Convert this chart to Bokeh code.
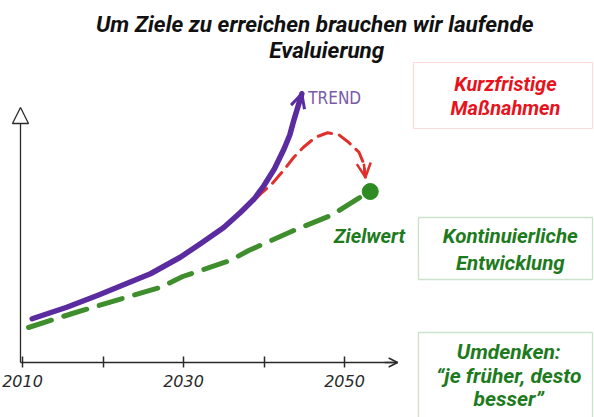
from bokeh.plotting import figure
from bokeh.models import (Range1d, LinearAxis, FixedTicker, Arrow, OpenHead,
                          NormalHead, Label, BoxAnnotation)
from bokeh.embed import file_html
from bokeh.resources import INLINE

# ---------------- data ----------------
tick_years = [2010, 2020, 2030, 2040, 2050]
tick_labels = {2010: "2010", 2020: "", 2030: "2030", 2040: "", 2050: "2050"}

trend_years = [2011.2, 2015.5, 2019.3, 2025.9, 2029.6, 2032.1, 2035.0, 2037.1, 2038.8, 2040.0, 2041.3, 2042.5, 2043.2, 2043.7, 2044.7]
trend_values = [17.5, 22.1, 26.8, 35.5, 42.1, 47.5, 54.0, 60.1, 65.5, 70.8, 77.5, 85.5, 91.0, 96.8, 107.5]

short_years = [2037.1, 2038.1, 2039.8, 2041.0, 2042.5, 2043.7, 2044.9, 2046.4, 2047.9, 2049.3, 2050.5, 2051.8, 2052.4, 2052.6]
short_values = [59.6, 62.8, 68.1, 71.5, 77.1, 82.1, 86.1, 90.1, 91.9, 91.1, 88.1, 84.1, 79.5, 74.1]

target_years = [2010.75, 2016.2, 2022.4, 2027.1, 2029.9, 2035.8, 2038.1, 2043.7, 2048.3, 2052.9]
target_values = [14.0, 19.6, 25.6, 30.0, 34.4, 40.8, 44.8, 52.8, 58.8, 68.0]

goal_year = [2053.2]
goal_value = [68.4]

title_lines = ["Um Ziele zu erreichen brauchen wir laufende", "Evaluierung"]
box1_lines = ["Kurzfristige", "Maßnahmen"]
box2_lines = ["Kontinuierliche", "Entwicklung"]
box3_lines = ["Umdenken:", "\u201cje fr\u00fcher, desto", "besser\u201d"]

# ---------------- styles ----------------
PURPLE = "#5b2c9f"
RED_LINE = "#e0302b"
RED_TEXT = "#e8121c"
GREEN_LINE = "#3f8e2e"
GREEN_TEXT = "#1d7a1d"
INK = "#2a2a2a"
FONT = "Roboto"

p = figure(width=594, height=417, output_backend="svg", toolbar_location=None,
           x_range=Range1d(2007.267, 2081.056), y_range=Range1d(-22, 144.8),
           x_axis_type=None, y_axis_type=None,
           min_border=0, min_border_left=0, min_border_right=0,
           min_border_top=0, min_border_bottom=0)
p.outline_line_color = None
p.background_fill_color = "white"
p.border_fill_color = "white"

# x axis pinned at value 0 inside the frame
xaxis = LinearAxis(fixed_location=0, bounds=(2009.75, 2056.6),
                   ticker=FixedTicker(ticks=tick_years),
                   major_label_overrides=tick_labels)
xaxis.axis_line_color = INK
xaxis.axis_line_width = 1.3
xaxis.major_tick_line_color = INK
xaxis.major_tick_line_width = 1.5
xaxis.major_tick_in = 6
xaxis.major_tick_out = 5
xaxis.minor_tick_line_color = None
xaxis.major_label_standoff = 7
xaxis.major_label_text_font = "DejaVu Sans"
xaxis.major_label_text_font_style = "italic"
xaxis.major_label_text_font_size = "16px"
xaxis.major_label_text_color = INK
p.add_layout(xaxis, "below")

# arrow heads of the axes
p.add_layout(Arrow(end=OpenHead(size=9, line_color=INK, line_width=1.5),
                   x_start=2055.0, y_start=0, x_end=2056.6, y_end=0,
                   line_color=INK, line_width=1.3))
p.add_layout(Arrow(end=NormalHead(size=16, fill_color=None, line_color=INK, line_width=1.3),
                   x_start=2009.75, y_start=0, x_end=2009.75, y_end=102,
                   line_color=INK, line_width=1.3))

# target (green dashed)
p.line(target_years, target_values, line_color=GREEN_LINE, line_width=5,
       line_dash="24 13", line_cap="round", line_join="round")
p.scatter(goal_year, goal_value, size=16, fill_color="#2e8a22", line_color="#2e8a22")

# short term measures (red dashed)
p.line(short_years, short_values, line_color=RED_LINE, line_width=3,
       line_dash="14 8", line_cap="round", line_join="round")
p.add_layout(Arrow(end=OpenHead(size=14, line_color=RED_LINE, line_width=2.5),
                   x_start=short_years[-2], y_start=short_values[-2],
                   x_end=short_years[-1], y_end=short_values[-1],
                   line_color=RED_LINE, line_width=2.5))

# trend (purple)
p.line(trend_years, trend_values, line_color=PURPLE, line_width=5.5,
       line_cap="round", line_join="round")
p.add_layout(Arrow(end=OpenHead(size=14, line_color=PURPLE, line_width=3),
                   x_start=trend_years[-2], y_start=trend_values[-2],
                   x_end=trend_years[-1], y_end=trend_values[-1],
                   line_color=PURPLE, line_width=4))

def lab(x, y, text, color, size, style="bold italic", font=FONT, align="center"):
    p.add_layout(Label(x=x, y=y, text=text, text_color=color, text_font=font,
                       text_font_size=size, text_font_style=style,
                       text_align=align, text_baseline="middle"))

# title
lab(2046.3, 135.6, title_lines[0], "#111111", "22.5px")
lab(2047.8, 125.2, title_lines[1], "#111111", "22.5px")

# annotations in the chart
lab(2045.5, 106.0, "TREND", "#7a5aa8", "17px", style="normal", font="DejaVu Sans Condensed", align="left")
lab(2053.1, 50.8, "Zielwert", GREEN_TEXT, "20px")

# boxes on the right
p.add_layout(BoxAnnotation(left=2058.57, right=2080.81, top=120.0, bottom=93.6,
                           fill_color="white", fill_alpha=1.0,
                           line_color="#f08c8c", line_width=1.2))
p.add_layout(BoxAnnotation(left=2059.19, right=2080.81, top=58.0, bottom=33.2,
                           fill_color="white", fill_alpha=1.0,
                           line_color="#5aa05a", line_width=1.3))
p.add_layout(BoxAnnotation(left=2059.19, right=2080.81, top=12.0, bottom=-30.0,
                           fill_color="white", fill_alpha=1.0,
                           line_color="#5aa05a", line_width=1.3))

lab(2070.0, 111.6, box1_lines[0], RED_TEXT, "20px")
lab(2070.0, 102.0, box1_lines[1], RED_TEXT, "20px")
lab(2070.6, 50.8, box2_lines[0], GREEN_TEXT, "20.5px")
lab(2070.6, 40.0, box2_lines[1], GREEN_TEXT, "20.5px")
lab(2070.4, 4.4, box3_lines[0], GREEN_TEXT, "21px")
lab(2070.4, -5.2, box3_lines[1], GREEN_TEXT, "21px")
lab(2070.4, -14.4, box3_lines[2], GREEN_TEXT, "21px")

open("out.html", "w").write(file_html(p, INLINE))
